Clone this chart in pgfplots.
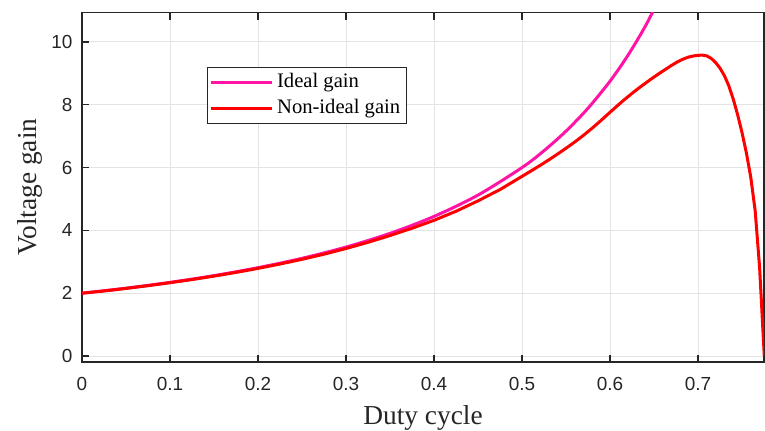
\documentclass[border=0pt]{standalone}
\usepackage{pgfplots}
\pgfplotsset{compat=1.18}
\usepackage{pgfplotstable}
\usepackage{fontspec}
\setmainfont{Liberation Serif}
\setsansfont{Liberation Sans}

\definecolor{idealpink}{RGB}{255,20,165}
\definecolor{gridgray}{RGB}{228,228,228}
\definecolor{axisdark}{RGB}{38,38,38}

% Ideal voltage gain versus duty cycle
\pgfplotstableread{
D      M
0.00   2.000
0.05   2.161
0.10   2.346
0.15   2.561
0.20   2.813
0.25   3.111
0.30   3.469
0.35   3.905
0.40   4.444
0.45   5.124
0.50   6.000
0.525  6.537
0.55   7.160
0.575  7.889
0.60   8.750
0.62   9.557
0.64  10.494
0.66  11.592
}\idealtab

% Voltage gain including parasitic losses
\pgfplotstableread{
D       M
0.000   2.000
0.025   2.071
0.050   2.152
0.075   2.239
0.100   2.334
0.125   2.434
0.150   2.544
0.175   2.662
0.200   2.790
0.225   2.929
0.250   3.079
0.275   3.242
0.300   3.423
0.325   3.620
0.350   3.836
0.375   4.068
0.400   4.320
0.425   4.609
0.450   4.940
0.475   5.300
0.500   5.720
0.510   5.887
0.520   6.059
0.530   6.237
0.540   6.422
0.550   6.615
0.560   6.815
0.570   7.030
0.580   7.260
0.590   7.505
0.600   7.760
0.605   7.885
0.610   8.009
0.615   8.130
0.620   8.247
0.625   8.361
0.630   8.472
0.635   8.578
0.640   8.680
0.645   8.783
0.650   8.882
0.655   8.978
0.660   9.071
0.665   9.161
0.670   9.254
0.675   9.338
0.680   9.413
0.685   9.475
0.690   9.523
0.695   9.554
0.700   9.573
0.705   9.579
0.710   9.555
0.715   9.475
0.720   9.345
0.725   9.165
0.730   8.925
0.735   8.605
0.740   8.185
0.745   7.685
0.750   7.115
0.755   6.465
0.760   5.685
0.765   4.615
0.770   2.815
0.775   0.165
0.7753  0.000
}\nonidealtab

\begin{document}
\begin{tikzpicture}
\begin{axis}[
  at={(0,0)}, anchor=south west,
  scale only axis,
  width=682bp, height=349bp,
  xmin=0, xmax=0.775,
  ymin=-0.18, ymax=10.93,
  xtick={0,0.1,...,0.7},
  ytick={0,2,...,10},
  xticklabels={0,0.1,0.2,0.3,0.4,0.5,0.6,0.7},
  yticklabels={0,2,4,6,8,10},
  tick align=inside,
  xtick pos=both, ytick pos=left,
  major tick length=7bp,
  tick style={color=axisdark, line width=1.5bp},
  axis line style={color=axisdark, line width=1.6bp},
  grid=major,
  major grid style={color=gridgray, line width=1bp},
  tick label style={font=\fontsize{19}{19}\selectfont\sffamily, color=axisdark},
  /pgf/number format/assume math mode=true,
  x tick label style={yshift=-12bp},
  y tick label style={xshift=-6bp},
  xlabel={Duty cycle},
  ylabel={Voltage gain},
  every axis x label/.style={at={([yshift=-62.3bp]axis description cs:0.5,0)}, anchor=base,
    font=\fontsize{27.5}{27.5}\selectfont, color=axisdark},
  every axis y label/.style={at={([xshift=-45bp]axis description cs:0,0.5)}, anchor=base, rotate=90,
    font=\fontsize{27.5}{27.5}\selectfont, color=axisdark},
  legend style={
    at={(axis description cs:0.1833,0.8453)}, anchor=north west,
    draw=axisdark, line width=0.8bp, fill=white,
    font=\fontsize{20.7}{20.7}\selectfont,
    inner sep=2.5bp,
    row sep=0bp,
    nodes={inner sep=3.2bp, text height=14.5bp, text depth=5bp},
  },
  legend cell align=left,
  legend image code/.code={\draw[#1, line width=3bp] (0bp,0bp) -- (61bp,0bp);},
]
\addplot[idealpink, line width=3bp, smooth, tension=0.5] table[x=D, y=M] {\idealtab};
\addlegendentry{Ideal gain}
\addplot[red, line width=3bp, line join=round] table[x=D, y=M] {\nonidealtab};
\addlegendentry{Non-ideal gain}
\end{axis}
\pgfresetboundingbox
\path[use as bounding box] (-82bp,-69.3bp) rectangle (683bp,361.7bp);
\end{tikzpicture}
\end{document}
